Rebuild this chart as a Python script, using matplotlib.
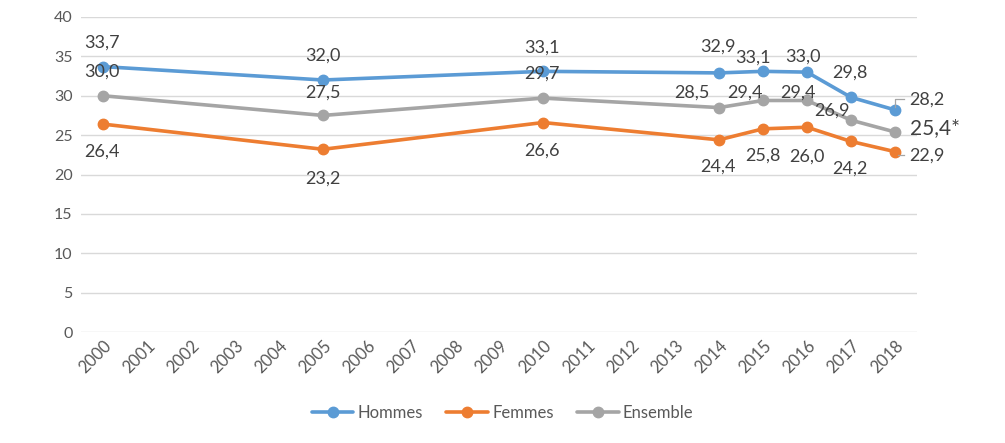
import matplotlib
matplotlib.use("Agg")
import matplotlib.pyplot as plt

years = [str(y) for y in range(2000, 2019)]
data_years = ["2000", "2005", "2010", "2014", "2015", "2016", "2017", "2018"]
hommes = [33.7, 32.0, 33.1, 32.9, 33.1, 33.0, 29.8, 28.2]
femmes = [26.4, 23.2, 26.6, 24.4, 25.8, 26.0, 24.2, 22.9]
ensemble = [30.0, 27.5, 29.7, 28.5, 29.4, 29.4, 26.9, 25.4]
last_ens_label = "25,4*"

plt.rcParams['font.family'] = ['Lato', 'DejaVu Sans']

C_H = '#5B9BD5'
C_F = '#ED7D31'
C_E = '#A5A5A5'
TXT = '#404040'
TICK = '#595959'

fig = plt.figure(figsize=(10.05, 4.43), dpi=100)
ax = fig.add_axes([81/1005, 1-332/443, (917-81)/1005, (332-17)/443])

xs = [years.index(y) for y in data_years]
kw = dict(lw=2.6, marker='o', ms=7.5, solid_capstyle='round', zorder=3)
ax.plot(xs, hommes, color=C_H, label='Hommes', **kw)
ax.plot(xs, femmes, color=C_F, label='Femmes', **kw)
ax.plot(xs, ensemble, color=C_E, label='Ensemble', **kw)

ax.set_xlim(-0.5, len(years)-0.5)
ax.set_ylim(0, 40)
ax.set_yticks(range(0, 41, 5))
ax.set_xticks(range(len(years)))
ax.set_xticklabels(years, rotation=45, ha='right', va='top', rotation_mode='anchor')
ax.tick_params(axis='both', length=0, labelcolor=TICK)
ax.tick_params(axis='y', pad=6, labelsize=11.5)
ax.tick_params(axis='x', pad=4, labelsize=12)
ax.grid(axis='y', color='#D9D9D9', lw=1)
ax.set_axisbelow(True)
for s in ax.spines.values():
    s.set_visible(False)

def fmt(v):
    return f"{v:.1f}".replace('.', ',')

# pixel offsets (dx, dy) for labels
off_h = [(-1, 24), (0, 24), (-1, 24), (-1, 26), (-10, 14), (-4, 15), (-1, 25), (32, 10)]
off_e = [(-1, 24), (0, 23), (-1, 24), (-27, 15), (-18, 8), (-9, 8), (-19, 10), (40, 4)]
off_f = [(-1, -28), (0, -29), (-1, -28), (-1, -27), (0, -27), (0, -29), (-1, -27), (32, -4)]

for series, offs, name in [(hommes, off_h, 'h'), (ensemble, off_e, 'e'), (femmes, off_f, 'f')]:
    for i, (x, v) in enumerate(zip(xs, series)):
        txt = fmt(v)
        size = 13
        if name == 'e' and i == len(series) - 1:
            txt = last_ens_label
            size = 15
        ax.annotate(txt, (x, v), xytext=offs[i], textcoords='offset pixels',
                    ha='center', va='center', fontsize=size, color=TXT, zorder=5)

# leader lines for last points
fig.canvas.draw()
def leader(x, v, pts):
    px, py = ax.transData.transform((x, v))
    X = [px + a for a, b in pts]
    Y = [py + b for a, b in pts]
    fig.add_artist(plt.Line2D(X, Y, transform=None, color='#A5A5A5', lw=0.9, zorder=6))

leader(xs[-1], hommes[-1], [(0, 3), (0, 11), (9, 11)])
leader(xs[-1], femmes[-1], [(3, -3), (9, -3)])

leg = fig.legend(loc='center', bbox_to_anchor=(0.5, 1-413/443), ncol=3, frameon=False,
                 fontsize=12, handlelength=2.5, handletextpad=0.25, columnspacing=1.4)
for t in leg.get_texts():
    t.set_color(TICK)

fig.savefig('out.png', dpi=100)
